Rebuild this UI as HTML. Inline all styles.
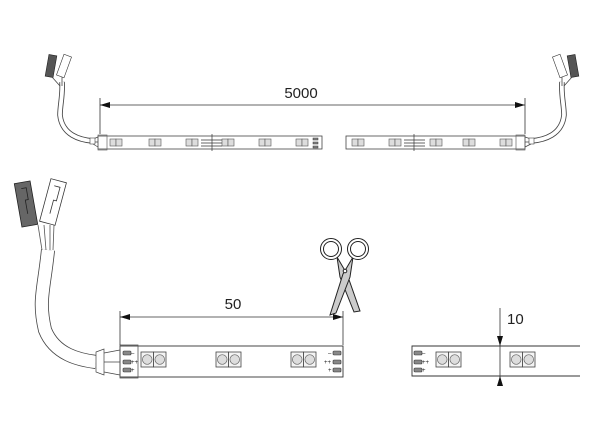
<!DOCTYPE html>
<html><head><meta charset="utf-8"><style>
html,body{margin:0;padding:0;background:#fff;}
svg{display:block;font-family:"Liberation Sans",sans-serif;}
</style></head><body>
<svg width="600" height="423" viewBox="0 0 600 423" xmlns="http://www.w3.org/2000/svg">
<defs>
<g id="led">
<rect x="0" y="0" width="12.5" height="15" fill="#f4f4f4" stroke="#444" stroke-width="0.8"/>
<rect x="12.5" y="0" width="12.5" height="15" fill="#f4f4f4" stroke="#444" stroke-width="0.8"/>
<circle cx="6.25" cy="7.5" r="4.8" fill="#ddd" stroke="#666" stroke-width="0.7"/>
<circle cx="18.75" cy="7.5" r="4.8" fill="#ddd" stroke="#666" stroke-width="0.7"/>
</g>
<g id="sled">
<rect x="0" y="0" width="6" height="7" fill="#ddd" stroke="#555" stroke-width="0.6"/>
<rect x="6" y="0" width="6" height="7" fill="#ddd" stroke="#555" stroke-width="0.6"/>
</g>
<g id="pad"><rect x="0" y="0" width="8" height="4" rx="1" fill="#888" stroke="#333" stroke-width="0.6"/></g>
</defs>

<!-- ===== TOP STRIP ===== -->
<g stroke="#333" fill="none" stroke-width="0.8">
<line x1="100" y1="98" x2="100" y2="134"/>
<line x1="525" y1="98" x2="525" y2="134"/>
</g>
<line x1="100" y1="105" x2="525" y2="105" stroke="#333" stroke-width="0.8"/>
<path d="M110,102L100,105L110,108z M515,102L525,105L515,108z" fill="#111"/>
<text x="301" y="98" font-size="15" text-anchor="middle" fill="#222">5000</text>

<rect x="98" y="136" width="224" height="13" fill="#fff" stroke="#444" stroke-width="0.8"/>
<rect x="346" y="136" width="179" height="13" fill="#fff" stroke="#444" stroke-width="0.8"/>
<rect x="98" y="135" width="9" height="15" fill="none" stroke="#666" stroke-width="0.7"/>
<rect x="516" y="135" width="9" height="15" fill="none" stroke="#666" stroke-width="0.7"/>
<use href="#sled" x="110" y="139"/><use href="#sled" x="149" y="139"/><use href="#sled" x="186" y="139"/>
<use href="#sled" x="222" y="139"/><use href="#sled" x="259" y="139"/><use href="#sled" x="296" y="139"/>
<use href="#sled" x="352" y="139"/><use href="#sled" x="389" y="139"/><use href="#sled" x="430" y="139"/>
<use href="#sled" x="463" y="139"/><use href="#sled" x="500" y="139"/>
<g stroke="#333" stroke-width="0.7">
<line x1="201" y1="140" x2="222" y2="140"/><line x1="201" y1="143" x2="222" y2="143"/><line x1="201" y1="146" x2="222" y2="146"/>
<line x1="212" y1="134" x2="212" y2="151"/>
<line x1="404" y1="140" x2="425" y2="140"/><line x1="404" y1="143" x2="425" y2="143"/><line x1="404" y1="146" x2="425" y2="146"/>
<line x1="414" y1="134" x2="414" y2="151"/>
</g>
<g fill="#888" stroke="#333" stroke-width="0.5">
<rect x="313" y="138" width="5" height="2"/><rect x="313" y="142" width="5" height="2"/><rect x="313" y="146" width="5" height="2"/>
</g>
<!-- top left cable -->
<path d="M62,82 C63,95 60,105 60,115 C62,135 80,140 93,141" fill="none" stroke="#444" stroke-width="5.5"/>
<path d="M62,82 C63,95 60,105 60,115 C62,135 80,140 93,141" fill="none" stroke="#fff" stroke-width="3.8"/>
<path d="M93,139 L98,137 M93,142 L98,142 M93,144 L98,147" stroke="#444" stroke-width="0.7"/>
<rect x="90" y="138" width="5" height="6" fill="#fff" stroke="#444" stroke-width="0.6"/>
<rect x="47" y="55" width="8" height="22" fill="#555" stroke="#222" stroke-width="0.6" transform="rotate(10 51 66)"/>
<rect x="60" y="55" width="8" height="22" fill="#fff" stroke="#333" stroke-width="0.6" transform="rotate(20 64 66)"/>
<path d="M52,77 L60,86 M62,77 L62,86" stroke="#444" stroke-width="0.8"/>
<!-- top right cable -->
<path d="M562,82 C561,95 564,105 564,115 C562,135 544,140 531,141" fill="none" stroke="#444" stroke-width="5.5"/>
<path d="M562,82 C561,95 564,105 564,115 C562,135 544,140 531,141" fill="none" stroke="#fff" stroke-width="3.8"/>
<path d="M531,139 L525,137 M531,142 L525,142 M531,144 L525,147" stroke="#444" stroke-width="0.7"/>
<rect x="529" y="138" width="5" height="6" fill="#fff" stroke="#444" stroke-width="0.6"/>
<rect x="556" y="55" width="8" height="22" fill="#fff" stroke="#333" stroke-width="0.6" transform="rotate(-20 560 66)"/>
<rect x="569" y="55" width="8" height="22" fill="#555" stroke="#222" stroke-width="0.6" transform="rotate(-10 573 66)"/>
<path d="M572,77 L564,86 M562,77 L562,86" stroke="#444" stroke-width="0.8"/>

<!-- ===== BOTTOM LEFT ===== -->
<path d="M48,250 C44,290 38,300 45,330 C55,355 80,360 96,362" fill="none" stroke="#444" stroke-width="14"/>
<path d="M48,250 C44,290 38,300 45,330 C55,355 80,360 96,362" fill="none" stroke="#fff" stroke-width="12.4"/>
<path d="M38,225 L42,250 M44,225 L46,250 M50,225 L50,250 M54,225 L53,250" stroke="#555" stroke-width="0.8"/>
<rect x="18" y="182" width="16" height="44" fill="#666" stroke="#222" stroke-width="0.8" transform="rotate(-10 26 204)"/>
<path d="M24,188 L29,188 L29,200 L26,200 L26,214" fill="none" stroke="#222" stroke-width="0.8" transform="rotate(-10 26 204)"/>
<rect x="45" y="180" width="16" height="44" fill="#fff" stroke="#333" stroke-width="0.8" transform="rotate(15 53 202)"/>
<path d="M50,186 L56,186 L56,200 L53,200 L53,214" fill="none" stroke="#333" stroke-width="0.8" transform="rotate(15 53 202)"/>
<path d="M96,352 L104,349 L104,375 L96,372 Z" fill="#fff" stroke="#444" stroke-width="0.7"/>
<path d="M104,353 L120,350 M104,362 L120,362 M104,372 L120,375" stroke="#444" stroke-width="0.7"/>
<rect x="120" y="346" width="223" height="31" fill="#fff" stroke="#333" stroke-width="0.9"/>
<rect x="120" y="345" width="18" height="33" fill="none" stroke="#555" stroke-width="0.8"/>
<use href="#pad" x="123" y="351"/><use href="#pad" x="123" y="360"/><use href="#pad" x="123" y="368"/>
<text x="131" y="355" font-size="6" fill="#222">–</text>
<text x="131" y="364" font-size="6" fill="#222">++</text>
<text x="131" y="372" font-size="6" fill="#222">+</text>
<use href="#led" x="141" y="352"/><use href="#led" x="216" y="352"/><use href="#led" x="291" y="352"/>
<use href="#pad" x="333" y="351"/><use href="#pad" x="333" y="360"/><use href="#pad" x="333" y="368"/>
<text x="328" y="355" font-size="6" fill="#222">–</text>
<text x="324" y="364" font-size="6" fill="#222">++</text>
<text x="328" y="372" font-size="6" fill="#222">+</text>
<line x1="120" y1="311" x2="120" y2="345" stroke="#333" stroke-width="0.8"/>
<line x1="343" y1="311" x2="343" y2="345" stroke="#333" stroke-width="0.8"/>
<line x1="120" y1="317" x2="343" y2="317" stroke="#333" stroke-width="0.8"/>
<path d="M130,314L120,317L130,320z M333,314L343,317L333,320z" fill="#111"/>
<text x="233" y="309" font-size="15" text-anchor="middle" fill="#222">50</text>
<!-- scissors -->
<g stroke="#222" stroke-width="1">
<path d="M337,257 L347,274 L360,311 L354,312 L340,277 Z" fill="#ccc"/>
<path d="M353,257 L343,274 L330,315 L336,313 L350,277 Z" fill="#ccc"/>
<circle cx="331" cy="249" r="9" fill="none" stroke-width="4"/>
<circle cx="331" cy="249" r="9" fill="none" stroke="#fff" stroke-width="2"/>
<circle cx="358" cy="249" r="9" fill="none" stroke-width="4"/>
<circle cx="358" cy="249" r="9" fill="none" stroke="#fff" stroke-width="2"/>
<circle cx="345" cy="271" r="1.8" fill="#fff"/>
</g>

<!-- ===== BOTTOM RIGHT ===== -->
<path d="M580,346 L412,346 L412,376 L580,376" fill="#fff" stroke="#333" stroke-width="0.9"/>
<use href="#pad" x="414" y="351"/><use href="#pad" x="414" y="360"/><use href="#pad" x="414" y="368"/>
<text x="422" y="355" font-size="6" fill="#222">–</text>
<text x="422" y="364" font-size="6" fill="#222">++</text>
<text x="422" y="372" font-size="6" fill="#222">+</text>
<use href="#led" x="436" y="352"/><use href="#led" x="510" y="352"/>
<line x1="500" y1="308" x2="500" y2="386" stroke="#333" stroke-width="0.8"/>
<path d="M497,336L500,346L503,336z M497,386L500,376L503,386z" fill="#111"/>
<text x="507" y="324" font-size="15" fill="#222">10</text>
</svg>
</body></html>
